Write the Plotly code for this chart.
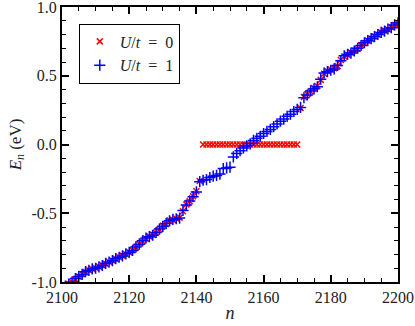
import plotly.graph_objects as go

n_vals = list(range(2100, 2201))

E_U1 = [-1.05, -1.03, -1.015, -1.0, -0.975, -0.96, -0.945, -0.925, -0.915, -0.905,
        -0.9, -0.89, -0.88, -0.865, -0.855, -0.845, -0.83, -0.82, -0.81, -0.795,
        -0.785, -0.77, -0.745, -0.725, -0.7, -0.68, -0.67, -0.66, -0.64, -0.615,
        -0.595, -0.575, -0.555, -0.545, -0.54, -0.535, -0.48, -0.44, -0.41, -0.38,
        -0.345, -0.27, -0.26, -0.255, -0.24, -0.23, -0.225, -0.215, -0.175, -0.17,
        -0.165, -0.09, -0.065, -0.045, -0.025, -0.01, 0.005, 0.03, 0.045, 0.06,
        0.08, 0.095, 0.11, 0.13, 0.15, 0.17, 0.185, 0.205, 0.22, 0.24,
        0.255, 0.27, 0.34, 0.36, 0.39, 0.405, 0.42, 0.475, 0.52, 0.53,
        0.54, 0.55, 0.575, 0.61, 0.645, 0.655, 0.665, 0.68, 0.7, 0.72,
        0.74, 0.755, 0.77, 0.785, 0.8, 0.815, 0.825, 0.84, 0.85, 0.87,
        0.885]

E_U0 = [-1.05, -1.03, -1.015, -1.0, -0.98, -0.962, -0.942, -0.928, -0.913, -0.905,
        -0.898, -0.888, -0.878, -0.867, -0.853, -0.843, -0.832, -0.818, -0.808, -0.797,
        -0.783, -0.768, -0.748, -0.722, -0.703, -0.683, -0.668, -0.657, -0.642, -0.618,
        -0.592, -0.578, -0.552, -0.548, -0.538, -0.532, -0.485, -0.437, -0.413, -0.377,
        -0.34, -0.265, 0.0, 0.0, 0.0, 0.0, 0.0, 0.0, 0.0, 0.0,
        0.0, 0.0, 0.0, 0.0, 0.0, 0.0, 0.0, 0.0, 0.0, 0.0,
        0.0, 0.0, 0.0, 0.0, 0.0, 0.0, 0.0, 0.0, 0.0, 0.0,
        0.0, 0.265, 0.345, 0.365, 0.385, 0.41, 0.425, 0.47, 0.515, 0.535,
        0.545, 0.555, 0.57, 0.615, 0.64, 0.652, 0.668, 0.683, 0.697, 0.722,
        0.738, 0.757, 0.768, 0.787, 0.798, 0.817, 0.828, 0.838, 0.853, 0.868,
        0.882]

y_tickvals = [-1.0, -0.5, 0.0, 0.5, 1.0]
y_ticktext = ["-1.0", "-0.5", "0.0", "0.5", "1.0"]
x_tickvals = [2100, 2120, 2140, 2160, 2180, 2200]

FONT = "Liberation Serif, Times New Roman, serif"

fig = go.Figure()
fig.add_trace(go.Scatter(
    x=n_vals, y=E_U0, mode="markers", name="<i>U</i>/<i>t</i>\u2002=\u20020",
    marker=dict(symbol="x-thin", size=6, line=dict(color="#ff0000", width=1.5)),
))
fig.add_trace(go.Scatter(
    x=n_vals, y=E_U1, mode="markers", name="<i>U</i>/<i>t</i>\u2002=\u20021",
    marker=dict(symbol="cross-thin", size=8, line=dict(color="#0000ff", width=1.5)),
))

axis_common = dict(
    showgrid=False, zeroline=False, showline=True, linecolor="black", linewidth=2,
    mirror="allticks", ticks="inside", ticklen=7, tickwidth=1.5, tickcolor="black",
    tickfont=dict(family=FONT, size=16, color="#222"), automargin=False,
    ticklabeloverflow="allow",
)

fig.update_xaxes(
    range=[2100, 2200], tickvals=x_tickvals,
    minor=dict(ticks="inside", dtick=5, ticklen=4, tickwidth=1.2, tickcolor="black"),
    title=dict(text="<i>n</i>", font=dict(family=FONT, size=18, color="#222"), standoff=1),
    **axis_common,
)
fig.update_yaxes(
    range=[-1.0, 1.0], tickvals=y_tickvals, ticktext=y_ticktext,
    minor=dict(ticks="inside", dtick=0.1, ticklen=4, tickwidth=1.2, tickcolor="black"),
    title=dict(text="<i>E</i><sub><i>n</i></sub> (eV)", font=dict(family=FONT, size=17, color="#222"), standoff=6),
    **axis_common,
)

fig.update_layout(
    width=415, height=326,
    margin=dict(l=62, r=17, t=7, b=44, autoexpand=False),
    plot_bgcolor="white", paper_bgcolor="white",
    font=dict(family=FONT, size=16, color="#222"),
    legend=dict(
        x=0.05, y=0.94, xanchor="left", yanchor="top",
        bordercolor="black", borderwidth=1, bgcolor="white",
        font=dict(family=FONT, size=16, color="#222"),
        itemwidth=30, tracegroupgap=0,
    ),
    showlegend=True,
)

fig.write_html(
    "out.html",
    config={"displayModeBar": False},
    post_script="document.body.style.margin='0';document.body.style.padding='0';",
)
